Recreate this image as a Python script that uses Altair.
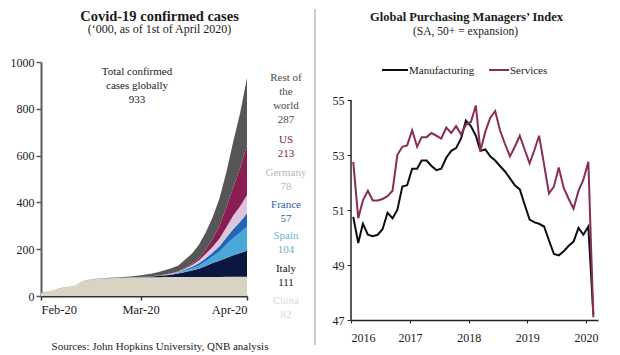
import altair as alt
import pandas as pd

FONT = "Liberation Serif"

# ---------------- Left panel: Covid-19 confirmed cases ('000) ----------------
case_dates = ["2020-02-01", "2020-02-03", "2020-02-05", "2020-02-07", "2020-02-09",
              "2020-02-11", "2020-02-13", "2020-02-15", "2020-02-17", "2020-02-19",
              "2020-02-21", "2020-02-23", "2020-02-25", "2020-02-27", "2020-02-29",
              "2020-03-02", "2020-03-04", "2020-03-06", "2020-03-08", "2020-03-10",
              "2020-03-12", "2020-03-14", "2020-03-16", "2020-03-18", "2020-03-20",
              "2020-03-22", "2020-03-24", "2020-03-26", "2020-03-28", "2020-03-30",
              "2020-04-01"]
china = [14.4, 20.4, 28.0, 34.5, 40.2, 44.7, 63.9, 68.5, 72.4, 74.6, 76.3, 77.2, 78.1, 78.8, 79.8,
         80.2, 80.4, 80.6, 80.7, 80.8, 80.9, 81.0, 81.0, 81.1, 81.25, 81.4, 81.6, 81.8, 82.0, 82.2,
         82.4]
italy = [0, 0, 0, 0, 0, 0, 0, 0, 0, 0, 0, 0.16, 0.32, 0.65, 1.13,
         2.04, 3.09, 4.64, 7.38, 10.15, 15.1, 21.2, 28.0, 35.7, 47.0, 59.1, 69.2, 80.6, 92.5, 101.7,
         110.6]
spain = [0, 0, 0, 0, 0, 0, 0, 0, 0, 0, 0, 0, 0, 0, 0.05,
         0.12, 0.22, 0.4, 0.67, 1.7, 3.0, 6.4, 9.9, 13.9, 20.4, 28.8, 39.9, 57.8, 73.2, 88.0,
         104.1]
france = [0.01, 0.01, 0.01, 0.01, 0.01, 0.01, 0.01, 0.01, 0.01, 0.01, 0.01, 0.01, 0.01, 0.04, 0.1,
          0.19, 0.29, 0.66, 1.13, 1.8, 2.9, 4.5, 6.6, 9.1, 12.6, 16.2, 22.3, 29.6, 38.1, 45.2,
          57.0]
germany = [0.01, 0.01, 0.01, 0.01, 0.01, 0.01, 0.01, 0.01, 0.01, 0.01, 0.01, 0.01, 0.01, 0.05, 0.08,
           0.16, 0.26, 0.67, 1.04, 1.46, 2.08, 4.6, 7.3, 12.3, 19.8, 24.9, 33.0, 43.9, 57.7, 66.9,
           77.9]
us = [0.01, 0.01, 0.01, 0.01, 0.01, 0.01, 0.01, 0.01, 0.01, 0.01, 0.01, 0.01, 0.01, 0.01, 0.01,
      0.08, 0.15, 0.32, 0.54, 0.96, 1.66, 2.73, 4.63, 7.79, 19.1, 33.3, 53.7, 85.4, 121.5, 161.8,
      213.4]
rest = [0.13, 0.18, 0.25, 0.3, 0.35, 0.4, 0.5, 0.6, 0.85, 1.0, 1.2, 1.8, 2.3, 3.6, 5.0,
        7.7, 10.7, 14.5, 18.3, 21.5, 25.0, 35.7, 44.1, 58.9, 72.0, 93.3, 118.2, 150.5, 195.7, 236.6,
        287.2]

countries = ["China", "Italy", "Spain", "France", "Germany", "US", "Rest of the world"]
country_label_names = ["China", "Italy", "Spain", "France", "Germany", "US", "Rest of\nthe\nworld"]
case_series = [china, italy, spain, france, germany, us, rest]
case_ticks = ["2020-02-01", "2020-03-01", "2020-04-01"]
case_y_ticks = [0, 200, 400, 600, 800, 1000]

# ---------------- Right panel: Global PMI ----------------
pmi_months = [f"{2016 + i // 12}-{i % 12 + 1:02d}-15" for i in range(50)]
manufacturing = [50.75, 49.8, 50.5, 50.1, 50.05, 50.1, 50.3, 50.9, 50.7, 51.0, 51.85, 51.9,
                 52.5, 52.5, 52.8, 52.8, 52.6, 52.45, 52.5, 52.9, 53.15, 53.25, 53.6, 54.25,
                 54.05, 53.7, 53.15, 53.2, 52.95, 52.8, 52.6, 52.4, 52.15, 51.9, 51.75, 51.2,
                 50.65, 50.55, 50.5, 50.4, 49.9, 49.4, 49.35, 49.5, 49.7, 49.85, 50.35, 50.1,
                 50.4, 47.2]
services = [52.75, 50.7, 51.35, 51.7, 51.35, 51.35, 51.4, 51.5, 51.7, 53.0, 53.3, 53.35,
            53.9, 53.3, 53.65, 53.65, 53.8, 53.7, 53.6, 54.0, 53.8, 54.05, 53.75, 54.1,
            54.2, 54.8, 53.15, 53.85, 54.35, 54.6, 53.9, 53.4, 52.95, 53.3, 53.7, 53.2,
            52.7, 53.2, 53.7, 52.65, 51.6, 51.85, 52.55, 51.8, 51.4, 51.05, 51.7, 52.1,
            52.75, 47.1]
pmi_series = ["Manufacturing", "Services"]
pmi_year_ticks = [2016, 2017, 2018, 2019, 2020]
pmi_y_ticks = [47, 49, 51, 53, 55]

# ---------------- styles ----------------
country_colors = ["#d9d3c4", "#0b1740", "#4aa7d8", "#2267b6", "#dcc6d9", "#8c1c54", "#565656"]
country_text_colors = ["#e0dbcd", "#111111", "#5fb2cf", "#2d5ea3", "#b9b9b9", "#7b1f48", "#4a4a4a"]
pmi_colors = ["#0d0d14", "#8a2c58"]

one = pd.DataFrame({"o": [0]})


def utc(s):
    y, m, d = (int(p) for p in s.split("-"))
    return alt.DateTime(year=y, month=m, date=d, utc=True)


def text(t, x, y, size=11, color="#1a1a1a", weight="normal", align="center", baseline="middle", lh=14):
    return alt.Chart(one).mark_text(
        text=t, font=FONT, fontSize=size, color=color, fontWeight=weight, align=align,
        baseline=baseline, lineBreak="\n", lineHeight=lh
    ).encode(x=alt.value(x), y=alt.value(y))


# ---- left chart ----
rows = []
for k, (name, vals) in enumerate(zip(countries, case_series)):
    for d, v in zip(case_dates, vals):
        rows.append({"date": d, "country": name, "k": k, "cases": v})
cases_df = pd.DataFrame(rows)

area = alt.Chart(cases_df).mark_area(interpolate="linear").encode(
    x=alt.X("date:T",
            scale=alt.Scale(type="utc", domain=[utc(case_dates[0]), utc(case_dates[-1])], nice=False),
            axis=alt.Axis(values=[utc(t) for t in case_ticks], format="%b-%y", title=None,
                          domainColor="#333333", domainWidth=2, tickColor="#333333", tickWidth=1.5,
                          tickSize=4, labelPadding=3, labelFontSize=12.5)),
    y=alt.Y("cases:Q", stack="zero",
            scale=alt.Scale(domain=[0, 1000], nice=False),
            axis=alt.Axis(values=case_y_ticks, format="d", title=None, domainColor="#5a5a5a",
                          domainWidth=2, tickColor="#5a5a5a", tickWidth=1.5, tickSize=5,
                          labelPadding=2)),
    color=alt.Color("country:N", scale=alt.Scale(domain=countries, range=country_colors), legend=None),
    order=alt.Order("k:Q"),
)

left_layers = [area]
label_y = [232.6, 200.9, 167.6, 136.6, 105.3, 71.9, 9.6]
for name, vals, col, yy in zip(country_label_names, case_series, country_text_colors, label_y):
    left_layers.append(text(f"{name}\n{round(vals[-1])}", 245, yy, size=11, color=col, baseline="top", lh=14))

total_last = round(sum(s[-1] for s in case_series))
left_layers.append(text(f"Total confirmed\ncases globally\n{total_last}", 96, 4.3, size=11,
                        baseline="top", lh=14))
left_layers.append(text("Covid-19 confirmed cases", 118.5, -45.5, size=14.5, weight="bold"))
left_layers.append(text("(\u2018000, as of 1st of April 2020)", 118.5, -32.8, size=12))
left_layers.append(text("Sources: John Hopkins University, QNB analysis", 119, 284.7, size=11))
# white anchor fixing the left edge of the page layout
left_layers.append(alt.Chart(one).mark_rule(color="white", strokeWidth=1).encode(
    x=alt.value(-32), x2=alt.value(-31), y=alt.value(-40)))

left = alt.layer(*left_layers).properties(width=206, height=234)

# ---- right chart ----
prow = []
for name, vals in zip(pmi_series, [manufacturing, services]):
    for m, v in zip(pmi_months, vals):
        prow.append({"month": m, "series": name, "value": v})
pmi_df = pd.DataFrame(prow)

lines = alt.Chart(pmi_df).mark_line(strokeWidth=2).encode(
    x=alt.X("month:T",
            scale=alt.Scale(type="utc", domain=[utc("2016-01-01"), utc("2020-03-15")], nice=False),
            axis=alt.Axis(values=[utc(f"{y}-01-01") for y in pmi_year_ticks], format="%Y", title=None,
                          domainColor="#222222", domainWidth=1.5, tickColor="#222222", tickSize=3,
                          labelPadding=9)),
    y=alt.Y("value:Q",
            scale=alt.Scale(domain=[47, 47 + 258 / 27.5], nice=False, zero=False),
            axis=alt.Axis(values=pmi_y_ticks, title=None, domain=False, tickColor="#222222",
                          tickSize=4, labelPadding=3)),
    color=alt.Color("series:N", scale=alt.Scale(domain=pmi_series, range=pmi_colors), legend=None),
)

y_axis_line = alt.Chart(one).mark_rule(color="#222222", strokeWidth=1.5).encode(
    x=alt.value(0), y=alt.datum(pmi_y_ticks[0]), y2=alt.datum(pmi_y_ticks[-1]))

right_layers = [lines, y_axis_line]
right_layers.append(alt.Chart(one).mark_rule(color=pmi_colors[0], strokeWidth=2).encode(
    x=alt.value(31), x2=alt.value(57), y=alt.value(8)))
right_layers.append(text(pmi_series[0], 58, 8.5, size=11, align="left"))
right_layers.append(alt.Chart(one).mark_rule(color=pmi_colors[1], strokeWidth=2).encode(
    x=alt.value(138), x2=alt.value(158), y=alt.value(8)))
right_layers.append(text(pmi_series[1], 159, 8.5, size=11, align="left"))
right_layers.append(text("Global Purchasing Managers\u2019 Index", 115.5, -45, size=12.5, weight="bold"))
right_layers.append(text("(SA, 50+ = expansion)", 114.5, -30, size=11.5))
# panel divider (its top anchors the top edge of the page layout)
right_layers.append(alt.Chart(one).mark_rule(color="#cccccc", strokeWidth=2).encode(
    x=alt.value(-36), y=alt.value(-53), y2=alt.value(283)))

right = alt.layer(*right_layers).properties(width=247, height=258)

chart = alt.hconcat(left, right, spacing=104, bounds="flush").resolve_scale(
    color="independent"
).properties(
    padding=0
).configure_view(stroke=None).configure_axis(
    grid=False, labelFont=FONT, labelFontSize=12, labelColor="#1a1a1a", titleFont=FONT
)

chart.save("out.html", embed_options={"renderer": "svg", "actions": False})
